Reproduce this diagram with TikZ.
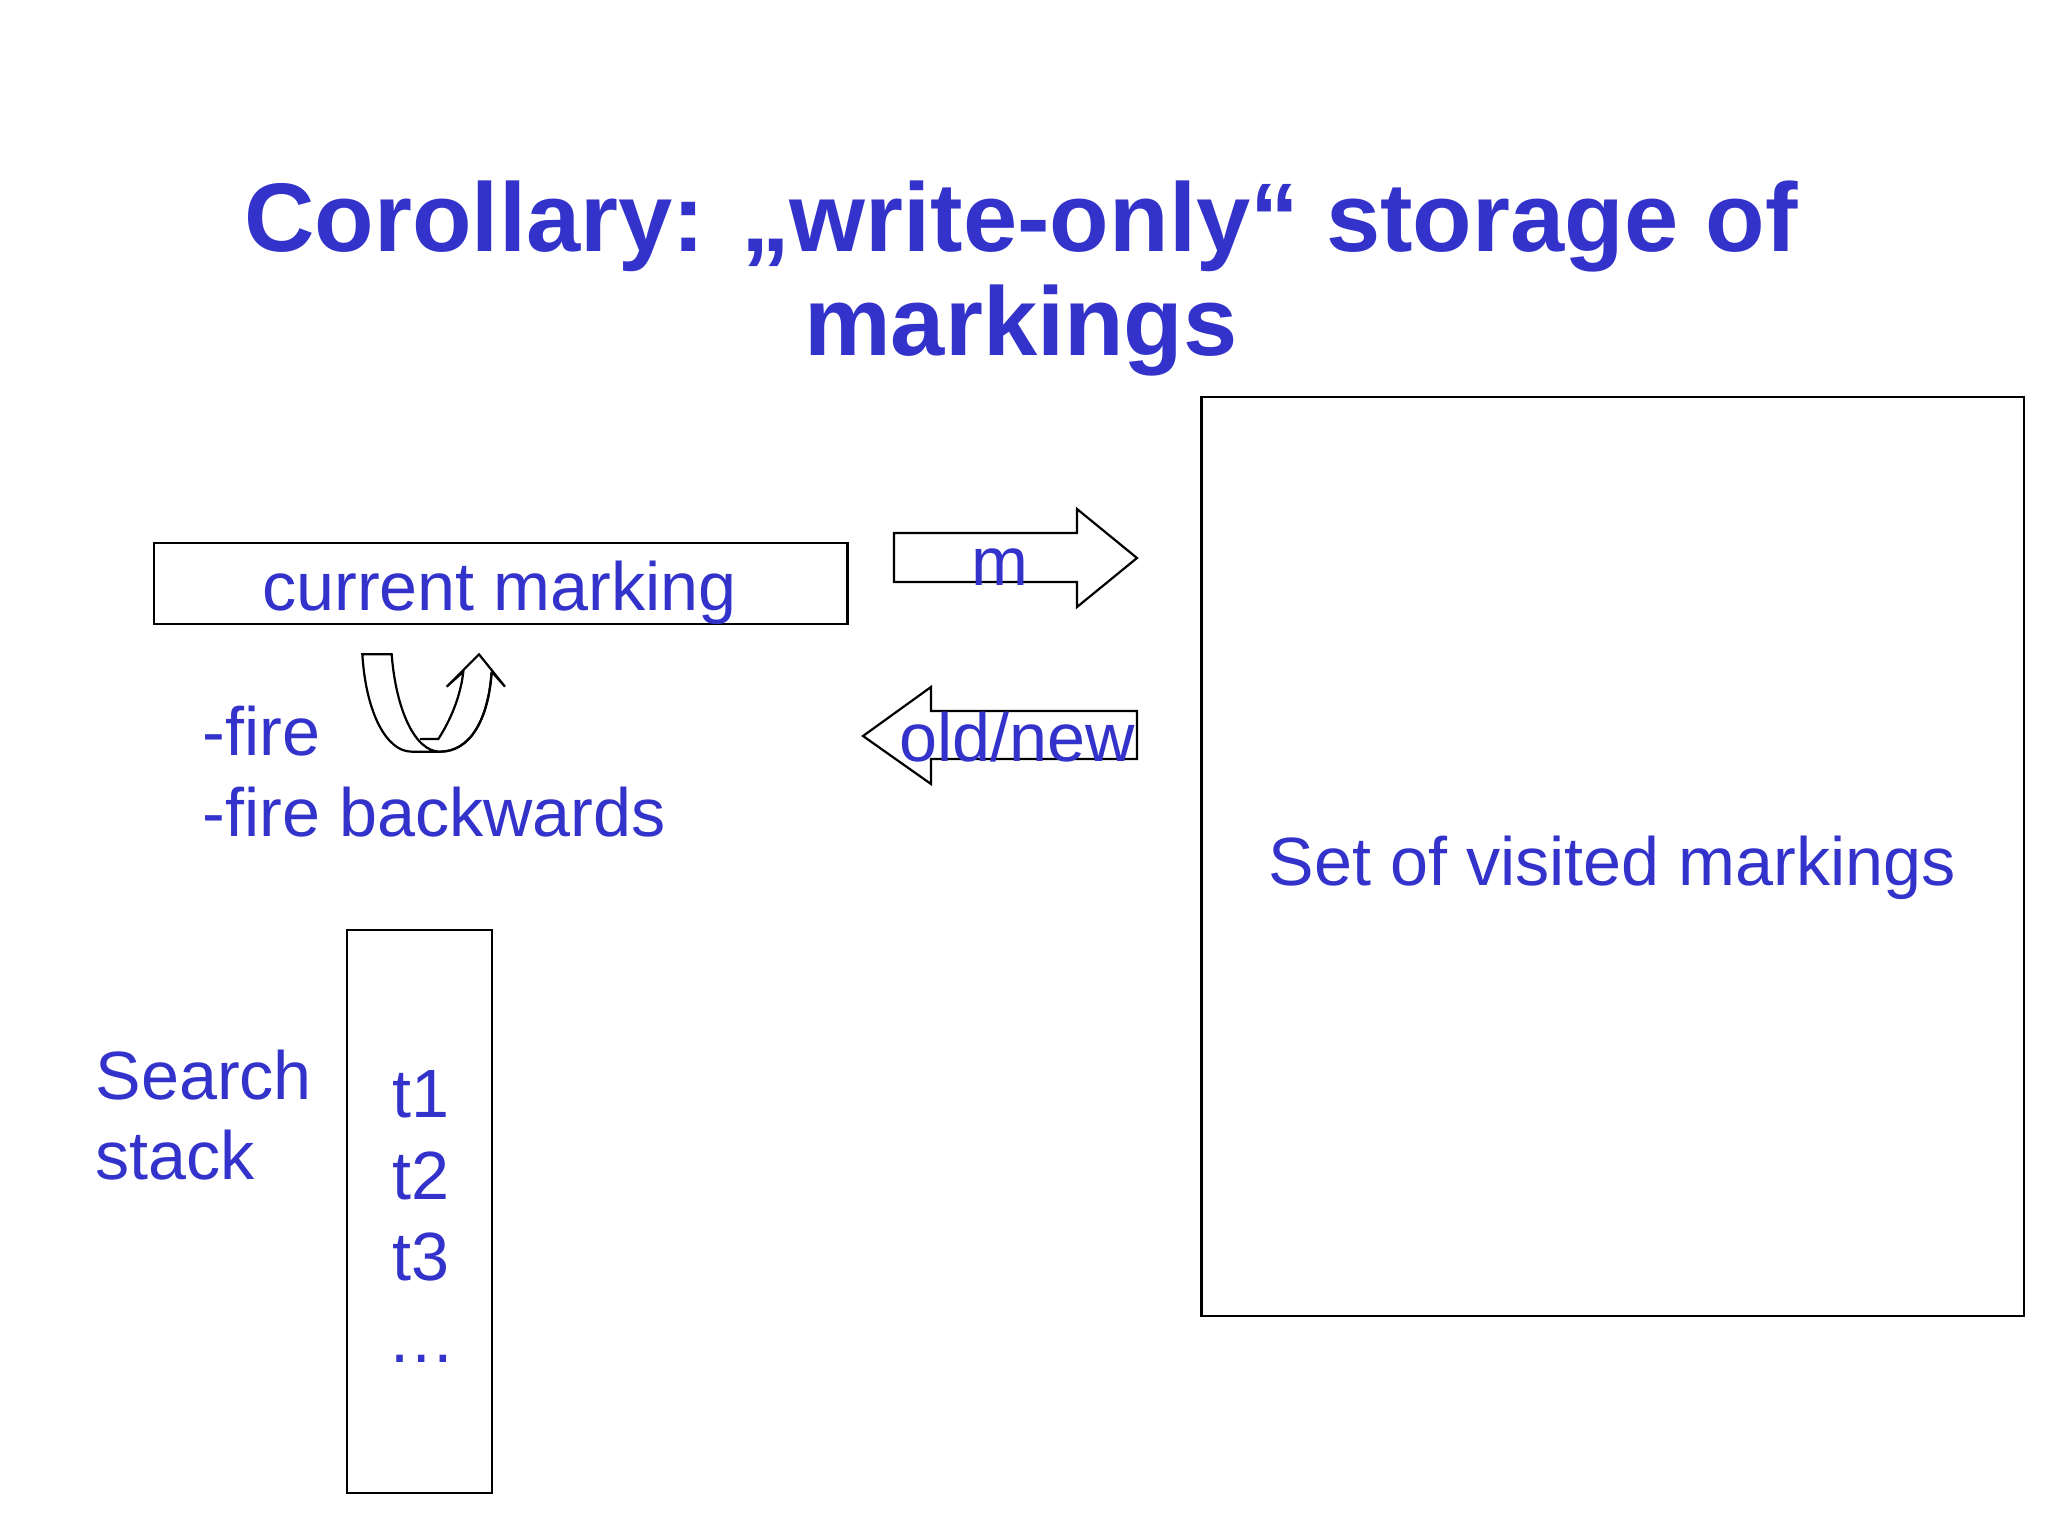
\documentclass[tikz,border=0pt]{standalone}
\usepackage{fontspec}
\setmainfont{Liberation Sans}
\definecolor{txtblue}{RGB}{51,51,204}
\begin{document}
\begin{tikzpicture}[x=1pt,y=-1pt,
  lbl/.style={text=txtblue, inner sep=0pt, font=\fontsize{68.3}{82}\selectfont},
  ttl/.style={text=txtblue, inner sep=0pt, font=\fontsize{97.5}{104}\selectfont\bfseries},
  frame/.style={draw=black, line width=2.2pt, inner sep=0pt, anchor=north west},
  shapeline/.style={draw=black, fill=white, line width=2.2pt, line join=miter}]
\useasboundingbox (0,0) rectangle (2048,1536);
\fill[white] (0,0) rectangle (2048,1536);

% title
\node[ttl, anchor=base] (title1) at (1021,251) {Corollary: „write-only“ storage of};
\node[ttl, anchor=base] (title2) at (1021,355) {markings};

% current marking box
\node[frame, minimum width=693.6pt, minimum height=81pt] (curbox) at (152.8,542) {};
\node[lbl, anchor=base] (curtxt) at (499.6,610) {current marking};

% m arrow
\draw[shapeline] (894,533) -- (1077,533) -- (1077,509) -- (1137,558) -- (1077,607) -- (1077,582) -- (894,582) -- cycle;
\node[lbl, anchor=base] (mtxt) at (1000,585) {m};

% old/new arrow
\draw[shapeline] (1137,711) -- (931,711) -- (931,687) -- (863,736) -- (931,784) -- (931,759) -- (1137,759) -- cycle;
\node[lbl, anchor=base] (oldnew) at (1017,761) {old/new};

% fire texts
\node[lbl, anchor=base west] (fire) at (202.4,755) {-fire};
\node[lbl, anchor=base west] (fireb) at (202.4,836) {-fire backwards};

% U-turn arrow
\begin{scope}[shift={(340,630)}, x=0.33333pt, y=-0.33333pt]
  \draw[shapeline] (455,125) .. controls (445,270) and (390,365) .. (300,365)
     -- (215,365) .. controls (140,365) and (78,250) .. (67,73) -- (155,73)
     .. controls (168,240) and (225,365) .. (300,365);
  \draw[shapeline] (240,327) -- (295,327) .. controls (335,265) and (362,195) .. (370,125)
     -- (320,170) -- (417,73) -- (495,170) -- (455,125);
  \draw[line width=2.2pt] (455,125) .. controls (445,270) and (390,365) .. (300,365);
\end{scope}

% search stack
\node[lbl, anchor=base west] (search) at (95.3,1099.7) {Search};
\node[lbl, anchor=base west] (stacktxt) at (95.3,1179.4) {stack};
\node[frame, minimum width=145pt, minimum height=562.5pt] (stackbox) at (346,929) {};
\node[lbl, anchor=base west] (t1) at (392,1117) {t1};
\node[lbl, anchor=base west] (t2) at (392,1199) {t2};
\node[lbl, anchor=base west] (t3) at (392,1280) {t3};
\node[lbl, anchor=base west] (tdots) at (387,1362) {…};

% visited set
\node[frame, minimum width=822.9pt, minimum height=919.5pt] (visited) at (1200.3,395.7) {};
\node[lbl, anchor=base] (vistxt) at (1612.5,885.5) {Set of visited markings};
\end{tikzpicture}
\end{document}
